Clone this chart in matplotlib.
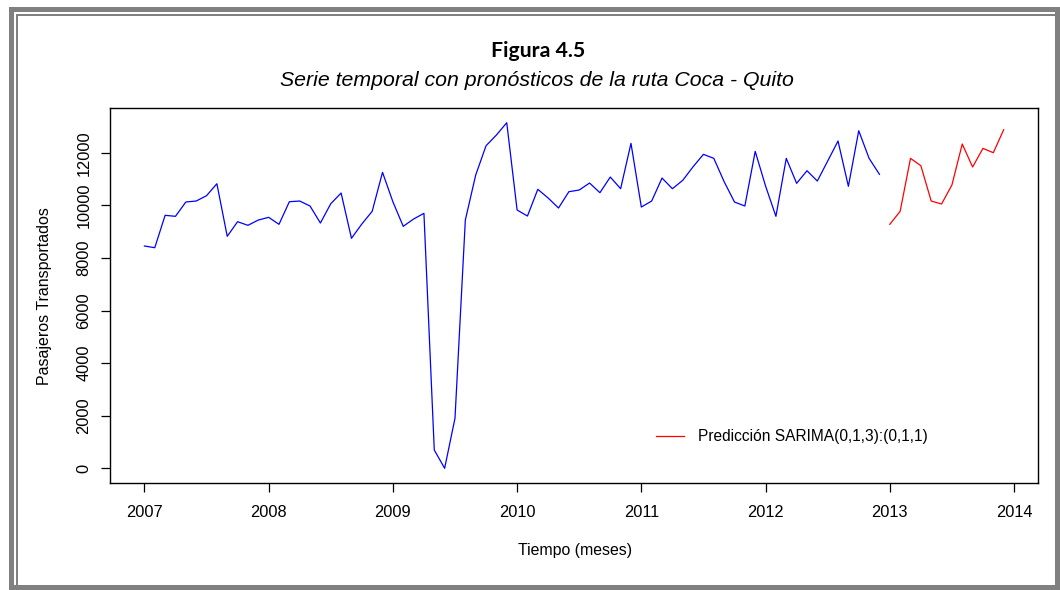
import matplotlib
matplotlib.use("Agg")
import matplotlib.pyplot as plt
from matplotlib.patches import Rectangle
import numpy as np

# ---- data ----
start_year = 2007
observed = [8452, 8388, 9619, 9581, 10125, 10163, 10365, 10821, 8821, 9376, 9239, 9440,
            9543, 9277, 10136, 10163, 9973, 9326, 10060, 10467, 8745, 9288, 9771, 11254,
            10136, 9201, 9478, 9695, 696, 0, 1901, 9440, 11151, 12265, 12672, 13140,
            9821, 9593, 10608, 10277, 9897, 10517, 10581, 10847, 10479, 11075, 10631, 12356,
            9935, 10163, 11037, 10631, 10950, 11467, 11938, 11786, 10897, 10125, 9973, 12052,
            10733, 9581, 11786, 10836, 11315, 10923, 11683, 12444, 10722, 12836, 11786, 11178]
forecast = [9277, 9771, 11786, 11505, 10163, 10049, 10771, 12330, 11456, 12166, 11999, 12874]
x_ticks = [2007, 2008, 2009, 2010, 2011, 2012, 2013, 2014]
y_ticks = [0, 2000, 4000, 6000, 8000, 10000, 12000]
title = "Figura 4.5"
subtitle = "Serie temporal con pronósticos de la ruta Coca - Quito"
xlabel = "Tiempo (meses)"
ylabel = "Pasajeros Transportados"
legend_label = "Predicción SARIMA(0,1,3):(0,1,1)"

t_obs = start_year + np.arange(len(observed)) / 12.0
t_fc = start_year + (len(observed) + np.arange(len(forecast))) / 12.0

W, H = 1060, 590
fig = plt.figure(figsize=(W / 100, H / 100), dpi=100)
fig.patch.set_facecolor("white")

def fx(px):
    return px / W

def fy(py):
    return 1 - py / H

# frame
gray = "#808080"
for (x0, y0, x1, y1) in [(9, 7, 14, 590), (9, 7, 1060, 12), (1055, 7, 1060, 590), (9, 585, 1060, 590),
                         (16, 14, 18, 585), (16, 14, 1055, 16)]:
    fig.patches.append(Rectangle((fx(x0), fy(y1)), fx(x1) - fx(x0), fy(y0) - fy(y1),
                                 transform=fig.transFigure, facecolor=gray, edgecolor="none"))

ax = fig.add_axes([fx(110), fy(483), fx(1038) - fx(110), fy(108) - fy(483)])
ax.plot(t_obs, observed, color="blue", linewidth=0.9)
ax.plot(t_fc, forecast, color="red", linewidth=0.9, label=legend_label)
ax.set_xlim(2006.723, 2014.193)
ax.set_ylim(-559, 13700)
ax.set_xticks(x_ticks)
ax.set_xticklabels([str(v) for v in x_ticks])
ax.set_yticks(y_ticks)
ax.set_yticklabels([str(v) for v in y_ticks], rotation=90, va="center")
for s in ax.spines.values():
    s.set_color("black")
    s.set_linewidth(1.0)
ax.tick_params(axis="both", length=6.5, width=0.9, color="black", labelsize=11.8,
               labelfontfamily="Liberation Sans")
ax.tick_params(axis="x", pad=9)
ax.tick_params(axis="y", pad=7)

leg = ax.legend(loc="center left", bbox_to_anchor=(fx(656), fy(437)),
                bbox_transform=fig.transFigure, frameon=False, borderpad=0,
                borderaxespad=0, handlelength=1.8, handletextpad=0.9,
                prop={"family": "Liberation Sans", "size": 11.2})

fig.text(fx(538), fy(51), title, ha="center", va="center", fontsize=15.3,
         fontweight="bold", family="Lato")
fig.text(fx(537), fy(80), subtitle, ha="center", va="center", fontsize=15.3,
         style="italic", family="Liberation Sans")
fig.text(fx(575), fy(551), xlabel, ha="center", va="center", fontsize=11.4,
         family="Liberation Sans")
fig.text(fx(45), fy(296), ylabel, ha="center", va="center", fontsize=11.5,
         family="Liberation Sans", rotation=90)

fig.savefig("out.png", dpi=100)
